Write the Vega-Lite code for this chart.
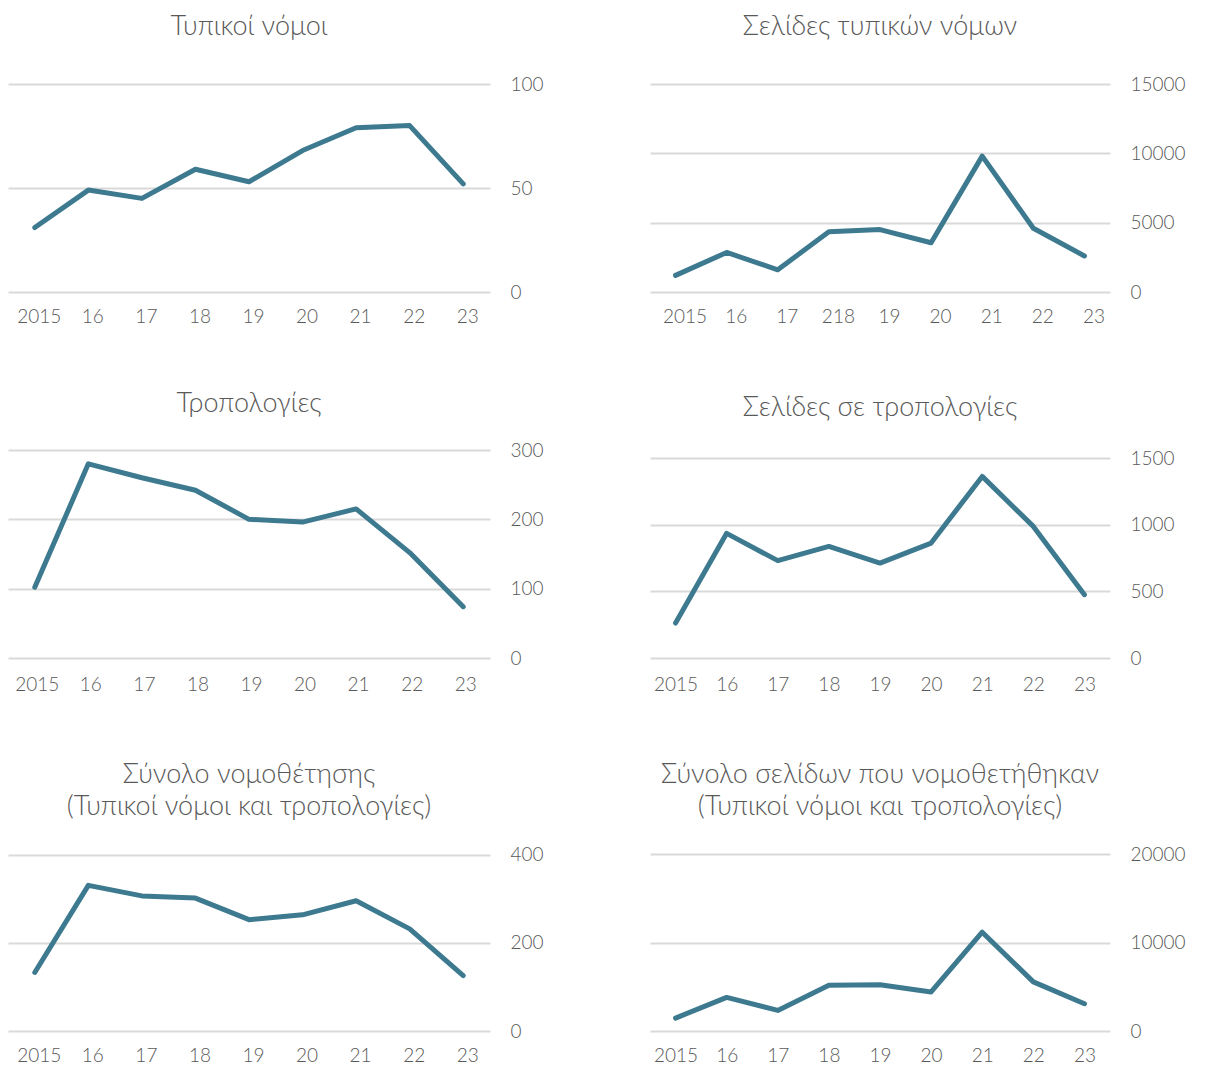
{
  "$schema": "https://vega.github.io/schema/vega-lite/v6.json",
  "background": "white",
  "padding": {"left": 8, "top": 13, "right": 0, "bottom": 0},
  "datasets": {
    "d": [
      {"yr": "2015", "x2": "2015", "tn": 31, "stn": 1200, "tr": 102, "str": 262, "sn": 133, "ssn": 1460},
      {"yr": "16", "x2": "16", "tn": 49, "stn": 2850, "tr": 280, "str": 935, "sn": 331, "ssn": 3800},
      {"yr": "17", "x2": "17", "tn": 45, "stn": 1600, "tr": 260, "str": 730, "sn": 307, "ssn": 2330},
      {"yr": "18", "x2": "218", "tn": 59, "stn": 4350, "tr": 242, "str": 837, "sn": 302, "ssn": 5170},
      {"yr": "19", "x2": "19", "tn": 53, "stn": 4500, "tr": 200, "str": 712, "sn": 253, "ssn": 5220},
      {"yr": "20", "x2": "20", "tn": 68, "stn": 3550, "tr": 196, "str": 862, "sn": 264, "ssn": 4410},
      {"yr": "21", "x2": "21", "tn": 79, "stn": 9800, "tr": 215, "str": 1362, "sn": 296, "ssn": 11165},
      {"yr": "22", "x2": "22", "tn": 80, "stn": 4600, "tr": 152, "str": 987, "sn": 232, "ssn": 5550},
      {"yr": "23", "x2": "23", "tn": 52, "stn": 2600, "tr": 74, "str": 475, "sn": 126, "ssn": 3080}
    ]
  },
  "config": {
    "font": "Lato",
    "view": {"stroke": null},
    "title": {"font": "Lato", "fontSize": 27, "fontWeight": 300, "color": "#595959", "baseline": "bottom", "lineHeight": 32},
    "axis": {"labelFont": "Lato", "labelFontSize": 19, "labelFontWeight": 300, "labelColor": "#595959", "domain": false, "ticks": false, "title": null, "gridColor": "#d9d9d9", "gridWidth": 2, "format": "d"},
    "axisX": {"grid": false, "labelPadding": 15, "labelAngle": 0},
    "axisY": {"labelPadding": 20, "labelAlign": "left", "labelBaseline": "middle"},
    "line": {"color": "#3d7a90", "strokeWidth": 5, "strokeCap": "round", "strokeJoin": "round"},
    "scale": {"pointPadding": 0.5}
  },
  "bounds": "flush",
  "columns": 2,
  "spacing": {"row": 158, "column": 160},
  "concat": [
    {
      "title": {"text": "Τυπικοί νόμοι", "offset": 34},
      "width": 482, "height": 208,
      "data": {"name": "d"},
      "mark": "line",
      "encoding": {
        "x": {"field": "yr", "type": "ordinal", "sort": null, "scale": {"type": "point"}, "axis": {"labelOffset": 4}},
        "y": {"field": "tn", "type": "quantitative", "scale": {"domain": [0, 100]}, "axis": {"orient": "right", "values": [0, 50, 100]}}
      }
    },
    {
      "title": {"text": "Σελίδες τυπικών νόμων", "offset": 34},
      "width": 460, "height": 208,
      "data": {"name": "d"},
      "mark": "line",
      "encoding": {
        "x": {"field": "x2", "type": "ordinal", "sort": null, "scale": {"type": "point"}, "axis": {"labelOffset": 9}},
        "y": {"field": "stn", "type": "quantitative", "scale": {"domain": [0, 15000]}, "axis": {"orient": "right", "values": [0, 5000, 10000, 15000]}}
      }
    },
    {
      "title": {"text": "Τροπολογίες", "offset": 23},
      "width": 482, "height": 208,
      "data": {"name": "d"},
      "mark": "line",
      "encoding": {
        "x": {"field": "yr", "type": "ordinal", "sort": null, "scale": {"type": "point"}, "axis": {"labelOffset": 2, "labelPadding": 17}},
        "y": {"field": "tr", "type": "quantitative", "scale": {"domain": [0, 300]}, "axis": {"orient": "right", "values": [0, 100, 200, 300]}}
      }
    },
    {
      "title": {"text": "Σελίδες σε τροπολογίες", "offset": 27},
      "width": 460, "height": 208,
      "data": {"name": "d"},
      "mark": "line",
      "encoding": {
        "x": {"field": "yr", "type": "ordinal", "sort": null, "scale": {"type": "point"}, "axis": {"labelPadding": 17}},
        "y": {"field": "str", "type": "quantitative", "scale": {"domain": [0, 1560], "nice": false}, "axis": {"orient": "right", "values": [0, 500, 1000, 1500]}}
      }
    },
    {
      "title": {"text": ["Σύνολο νομοθέτησης", "(Τυπικοί νόμοι και τροπολογίες)"], "offset": -5},
      "width": 482, "height": 215,
      "data": {"name": "d"},
      "mark": "line",
      "encoding": {
        "x": {"field": "yr", "type": "ordinal", "sort": null, "scale": {"type": "point"}, "axis": {"labelOffset": 4}},
        "y": {"field": "sn", "type": "quantitative", "scale": {"domain": [0, 488.6], "nice": false}, "axis": {"orient": "right", "values": [0, 200, 400]}}
      }
    },
    {
      "title": {"text": ["Σύνολο σελίδων που νομοθετήθηκαν", "(Τυπικοί νόμοι και τροπολογίες)"], "offset": -5},
      "width": 460, "height": 215,
      "data": {"name": "d"},
      "mark": "line",
      "encoding": {
        "x": {"field": "yr", "type": "ordinal", "sort": null, "scale": {"type": "point"}},
        "y": {"field": "ssn", "type": "quantitative", "scale": {"domain": [0, 24300], "nice": false}, "axis": {"orient": "right", "values": [0, 10000, 20000]}}
      }
    }
  ]
}
